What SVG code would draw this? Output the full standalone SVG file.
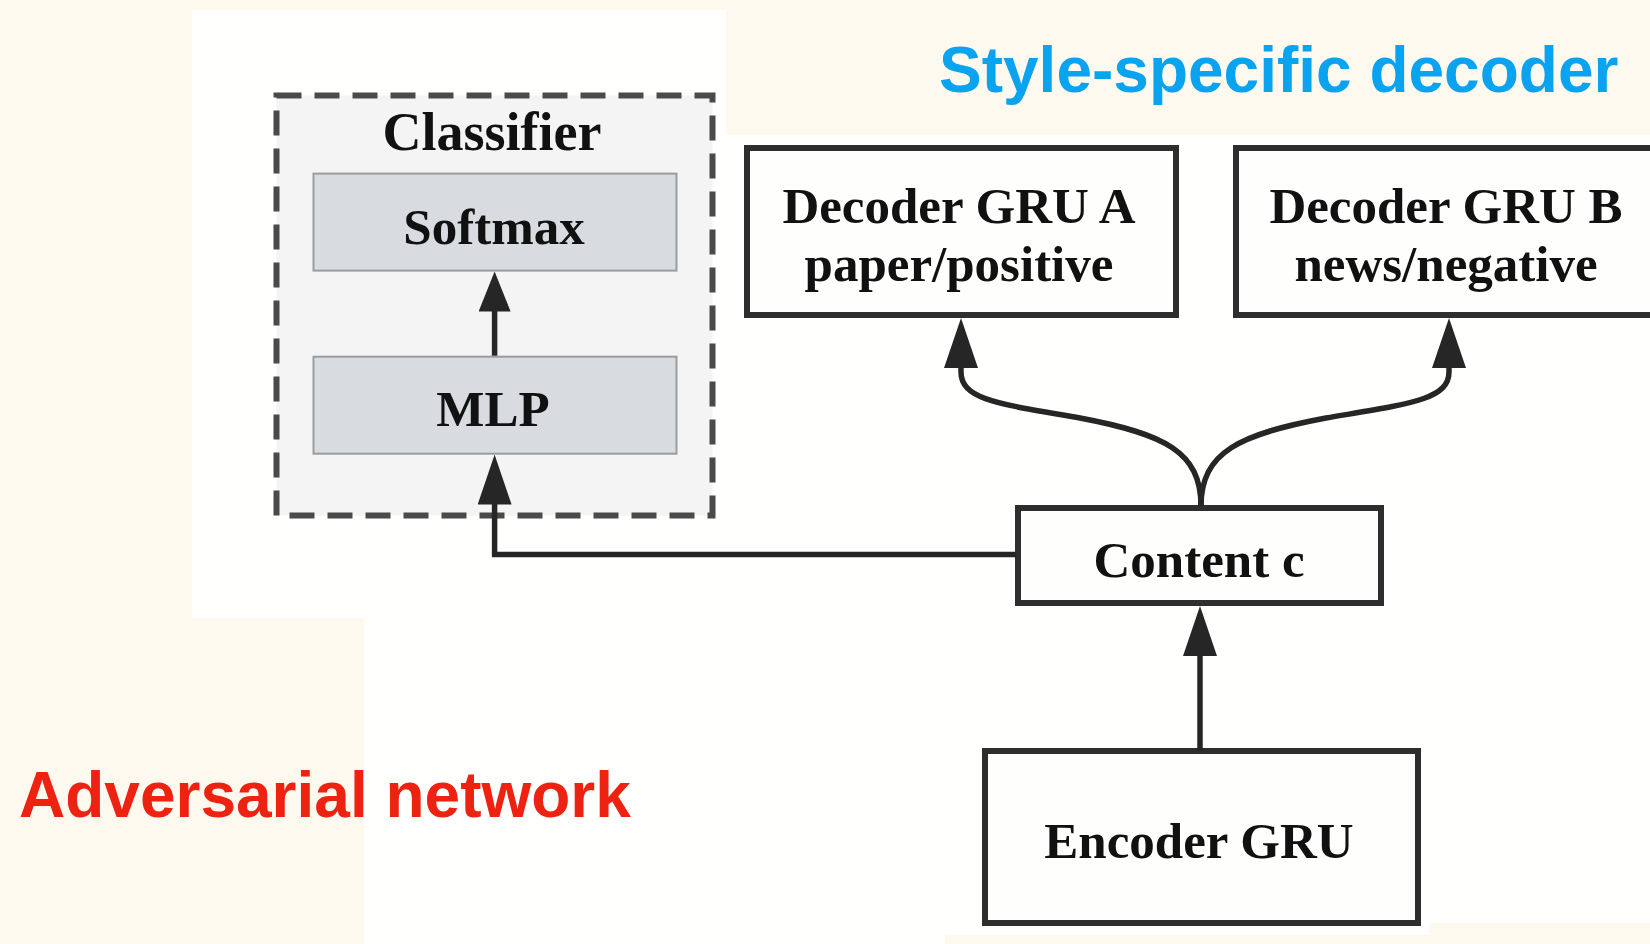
<svg xmlns="http://www.w3.org/2000/svg" width="1650" height="944" viewBox="0 0 1650 944">
  <style>
    .node { fill: #fefefd; stroke: #2e2e2e; stroke-width: 6; }
    .inner { fill: #d8dce0; stroke: #9c9c9c; stroke-width: 2; }
    .lbl { font-family: "Liberation Serif", "Times New Roman", serif; font-weight: bold; font-size: 51px; fill: #111; text-anchor: middle; }
    .title { font-family: "Liberation Sans", Arial, sans-serif; font-weight: bold; font-size: 64px; }
    .conn { fill: none; stroke: #262626; stroke-width: 5.5; stroke-linejoin: miter; }
  </style>
  <defs>
    <marker id="arrowL" viewBox="0 0 50 34" refX="40" refY="17" markerWidth="50" markerHeight="34" markerUnits="userSpaceOnUse" orient="auto">
      <path d="M0,0 L50,17 L0,34 Z" fill="#262626"/>
    </marker>
    <marker id="arrowS" viewBox="0 0 40 32" refX="32" refY="16" markerWidth="40" markerHeight="32" markerUnits="userSpaceOnUse" orient="auto">
      <path d="M0,0 L40,16 L0,32 Z" fill="#262626"/>
    </marker>
  </defs>

  <!-- background -->
  <rect x="0" y="0" width="1650" height="944" fill="#fef9ef"/>
  <rect x="192" y="10" width="534" height="608" fill="#fffffe"/>
  <path d="M364,618 L726,618 L726,135 L1650,135 L1650,923 L1429,923 L1429,935 L945,935 L945,944 L364,944 Z" fill="#fffffe"/>

  <!-- titles -->
  <text class="title" x="939" y="92" fill="#0aa3f0">Style-specific decoder</text>
  <text class="title" x="19" y="817" fill="#ee2211">Adversarial network</text>

  <!-- classifier group -->
  <g id="classifier">
    <rect x="276.5" y="95.5" width="436" height="420" fill="#f4f4f4" stroke="#4a4a4a" stroke-width="6" stroke-dasharray="25 13"/>
    <text class="lbl" x="492" y="150" style="font-size:54px">Classifier</text>
  </g>
  <g id="softmax">
    <rect class="inner" x="313.5" y="173.6" width="363" height="97"/>
    <text class="lbl" x="494" y="244">Softmax</text>
  </g>
  <g id="mlp">
    <rect class="inner" x="313.5" y="356.7" width="363" height="97"/>
    <text class="lbl" x="493" y="426">MLP</text>
  </g>

  <g id="decoderA">
    <rect class="node" x="747" y="148" width="429" height="167"/>
    <text class="lbl" x="959" y="223">Decoder GRU A</text>
    <text class="lbl" x="959" y="281">paper/positive</text>
  </g>
  <g id="decoderB">
    <rect class="node" x="1236" y="148" width="440" height="167"/>
    <text class="lbl" x="1446" y="223">Decoder GRU B</text>
    <text class="lbl" x="1446" y="281">news/negative</text>
  </g>
  <g id="content">
    <rect class="node" x="1018" y="508" width="363" height="95"/>
    <text class="lbl" x="1199" y="577">Content c</text>
  </g>
  <g id="encoder">
    <rect class="node" x="985" y="751" width="433" height="172"/>
    <text class="lbl" x="1199" y="858">Encoder GRU</text>
  </g>

  <!-- connectors -->
  <g id="connectors">
    <path class="conn" d="M494.6,355.7 L494.6,279.5" stroke-width="3" marker-end="url(#arrowS)"/>
    <path class="conn" d="M1016,554.6 L494.6,554.6 L494.6,464.6" stroke-width="5" marker-end="url(#arrowL)"/>
    <path class="conn" d="M1200,751 L1200,616" marker-end="url(#arrowL)"/>
    <path class="conn" d="M1201,506 C1201,452 1165,434 1080,418 C1000,404 961,400 961,372 L961,328" marker-end="url(#arrowL)"/>
    <path class="conn" d="M1201,506 C1201,452 1240,434 1326,418 C1408,404 1449,400 1449,372 L1449,328" marker-end="url(#arrowL)"/>
  </g>
</svg>
